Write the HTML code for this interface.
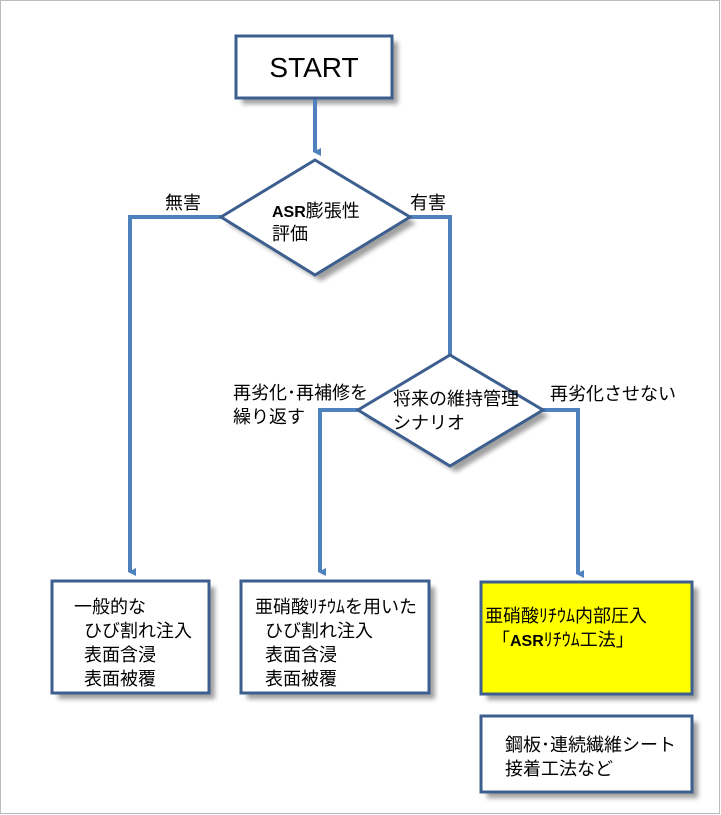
<!DOCTYPE html>
<html><head><meta charset="utf-8"><style>
html,body{margin:0;padding:0;background:#fff;}
svg{display:block;}
text{font-family:"Liberation Sans","Noto Sans CJK JP",sans-serif;font-size:18px;fill:#000;}
</style></head><body>
<svg width="721" height="815" viewBox="0 0 721 815" xmlns="http://www.w3.org/2000/svg">
<defs>
<filter id="sh" x="-20%" y="-20%" width="150%" height="150%"><feGaussianBlur stdDeviation="2.5"/></filter>
<marker id="ar" markerWidth="8" markerHeight="8" refX="4" refY="6" orient="auto" markerUnits="userSpaceOnUse"><path d="M0,0 L8,0 L4,8 Z" fill="#4f81bd"/></marker>
</defs>
<rect x="0.5" y="0.5" width="719" height="813" fill="none" stroke="#bbb"/>
<g fill="#777" opacity="0.7" filter="url(#sh)">
<rect x="242" y="42" width="156" height="62"/>
<polygon points="321,166 416,223 321,281 227,223"/>
<polygon points="456,361 549,416 456,472 364,416"/>
<rect x="58" y="587" width="157" height="112"/>
<rect x="247" y="587" width="188" height="112"/>
<rect x="487" y="588" width="211" height="112"/>
<rect x="487" y="722" width="211" height="76"/>
</g>
<g fill="none" stroke="#4f81bd" stroke-width="4">
<path d="M315,98 V152" marker-end="url(#ar)"/>
<path d="M221,217 H130 V572" marker-end="url(#ar)"/>
<path d="M410,217 H450 V355"/>
<path d="M358,410 H320 V572" marker-end="url(#ar)"/>
<path d="M543,410 H578 V574" marker-end="url(#ar)"/>
</g>
<g stroke="#3d5f8f" stroke-width="3">
<rect x="236" y="36" width="156" height="62" fill="#fff"/>
<polygon points="315,160 410,217 315,275 221,217" fill="#fff"/>
<polygon points="450,355 543,410 450,466 358,410" fill="#fff"/>
<rect x="52" y="581" width="157" height="112" fill="#fff"/>
<rect x="241" y="581" width="188" height="112" fill="#fff"/>
<rect x="481" y="582" width="211" height="112" fill="#ffff00"/>
<rect x="481" y="716" width="211" height="76" fill="#fff"/>
</g>
<text x="314" y="77" text-anchor="middle" style="font-size:28px">START</text>
<text x="272" y="217"><tspan style="font-weight:bold;font-size:16px">ASR</tspan>膨張性</text>
<text x="272" y="240">評価</text>
<text x="393" y="405">将来の維持管理</text>
<text x="393" y="429">シナリオ</text>
<text x="165" y="209">無害</text>
<text x="410" y="209">有害</text>
<text x="233" y="399">再劣化･再補修を</text>
<text x="233" y="423">繰り返す</text>
<text x="550" y="400">再劣化させない</text>
<text x="74" y="613">一般的な</text>
<text x="84" y="637">ひび割れ注入</text>
<text x="84" y="661">表面含浸</text>
<text x="84" y="685">表面被覆</text>
<text x="255" y="613">亜硝酸ﾘﾁｳﾑを用いた</text>
<text x="265" y="637">ひび割れ注入</text>
<text x="265" y="661">表面含浸</text>
<text x="265" y="685">表面被覆</text>
<text x="485" y="622">亜硝酸ﾘﾁｳﾑ内部圧入</text>
<text x="492" y="646">「<tspan style="font-weight:bold;font-size:16px">ASR</tspan>ﾘﾁｳﾑ工法」</text>
<text x="505" y="751">鋼板･連続繊維シート</text>
<text x="505" y="775">接着工法など</text>
</svg>
</body></html>
